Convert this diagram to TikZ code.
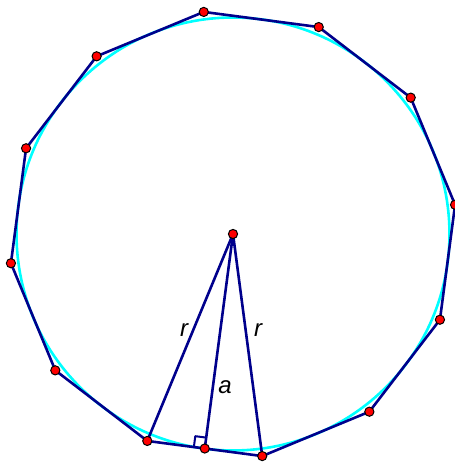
\documentclass[tikz,border=0pt]{standalone}
\usepackage{fontspec}
\setmainfont{Liberation Sans}
\usetikzlibrary{calc}
\definecolor{navy}{RGB}{0,0,140}
\definecolor{aqua}{RGB}{0,255,255}
\begin{document}
\begin{tikzpicture}[x=0.5pt,y=0.5pt,
  edge/.style={draw=navy,line width=1.3pt,line join=round},
  dot/.style={circle,fill=red,draw=black,line width=0.5pt,inner sep=0pt,minimum size=4.6pt},
  lbl/.style={font=\itshape\fontsize{12}{14}\selectfont,text=black,inner sep=0pt}]
\useasboundingbox (0,0) rectangle (455,462);
\coordinate (c) at (233,228);
\draw[aqua,line width=1.3pt] (c) circle (216.5);
\foreach \i in {0,...,11} \coordinate (p\i) at ($(c)+({97.5-30*\i}:224)$);
\draw[edge] (p0) -- (p1) -- (p2) -- (p3) -- (p4) -- (p5) -- (p6) -- (p7) -- (p8) -- (p9) -- (p10) -- (p11) -- cycle;
\coordinate (f) at ($(p6)!(c)!(p7)$);
\coordinate (s1) at ($(f)!5.5pt!(p7)$);
\coordinate (s2) at ($(f)!5.5pt!(c)$);
\coordinate (q) at ($(s1)+(s2)-(f)$);
\draw[edge,line width=1pt] (s1) -- (q) -- (s2);
\draw[edge] (c) -- (p7);
\draw[edge] (c) -- (p6);
\draw[edge] (c) -- (f);
\node[lbl] (r1) at (184,132) {r};
\node[lbl] (r2) at (258,132) {r};
\node[lbl] (a) at (225,75) {a};
\foreach \i in {0,...,11} \node[dot] (d\i) at (p\i) {};
\node[dot] (dc) at (c) {};
\node[dot] (df) at (f) {};
\end{tikzpicture}
\end{document}
